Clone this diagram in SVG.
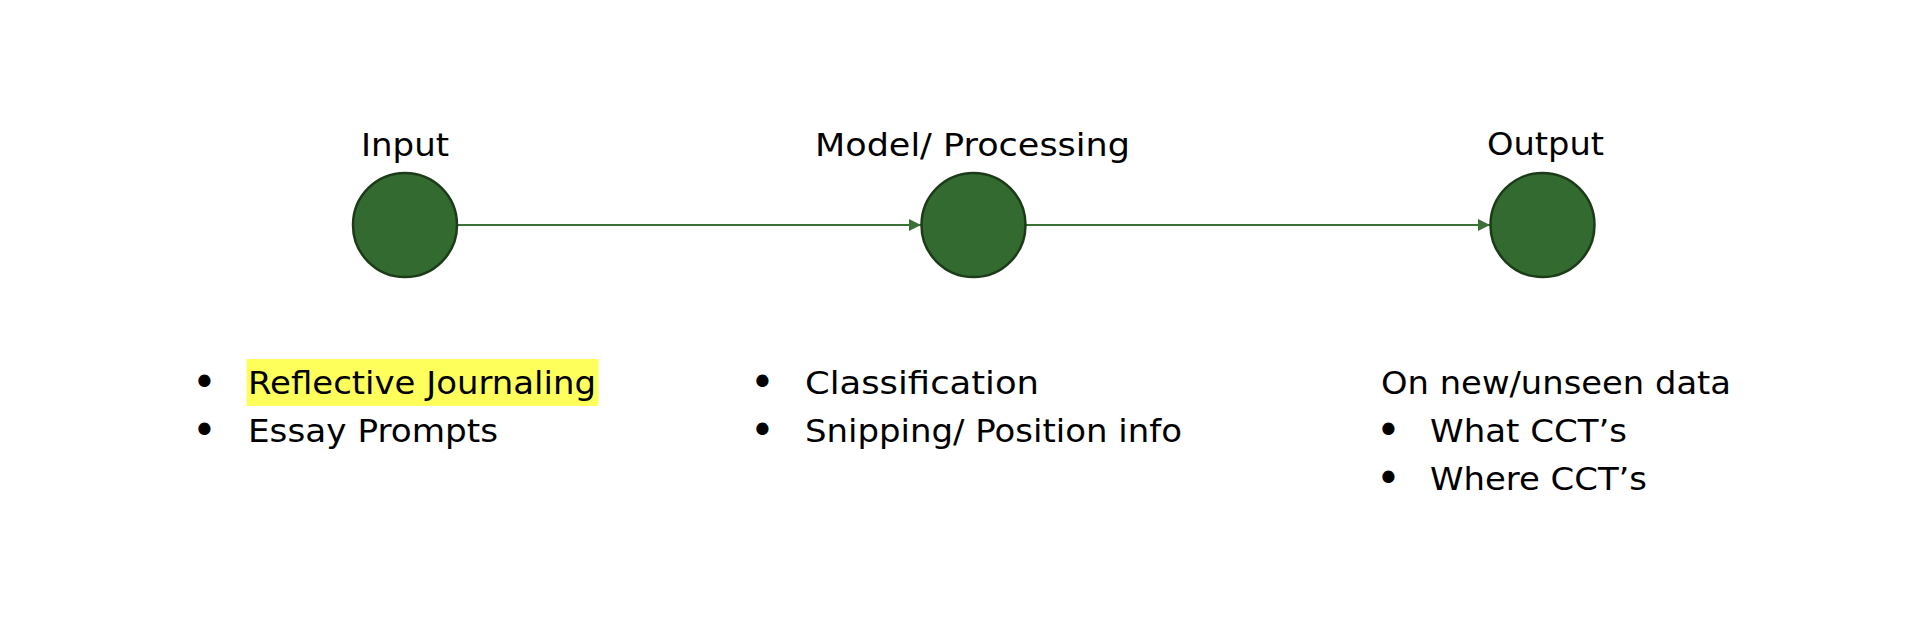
<svg xmlns="http://www.w3.org/2000/svg" width="1908" height="618" viewBox="0 0 1908 618">
<style>
.node{fill:#336a2f;stroke:#1c3b19;stroke-width:2.5}
.conn{stroke:#3b7136;stroke-width:2;fill:none}
.t{font-family:"DejaVu Sans","Liberation Sans",sans-serif;font-size:32px;fill:#000}
.b{font-family:"DejaVu Sans","Liberation Sans",sans-serif;font-size:42px;fill:#000}
</style>
<defs>
<marker id="ah" viewBox="0 0 12 12" refX="12" refY="6" markerWidth="12" markerHeight="12" markerUnits="userSpaceOnUse" orient="auto">
<path d="M0,0 L12,6 L0,12 Z" fill="#3b7136"/>
</marker>
</defs>
<rect width="1908" height="618" fill="#fff"/>
<g id="connectors">
<line class="conn" x1="457" y1="225" x2="921" y2="225" marker-end="url(#ah)"/>
<line class="conn" x1="1026" y1="225" x2="1490" y2="225" marker-end="url(#ah)"/>
</g>
<g id="input">
<text class="t" x="361" y="156" textLength="88" lengthAdjust="spacingAndGlyphs">Input</text>
<circle class="node" cx="405" cy="225" r="52"/>
</g>
<g id="model">
<text class="t" x="815" y="156" textLength="315" lengthAdjust="spacingAndGlyphs">Model/ Processing</text>
<circle class="node" cx="973.5" cy="225" r="52"/>
</g>
<g id="output">
<text class="t" x="1487" y="155" textLength="117" lengthAdjust="spacingAndGlyphs">Output</text>
<circle class="node" cx="1542.5" cy="225" r="52"/>
</g>
<g id="input-list">
<rect x="246.5" y="359" width="352" height="47" fill="#ffff5c"/>
<text class="b" x="192" y="397">•</text>
<text class="b" x="192" y="445">•</text>
<text class="t" x="248" y="394" textLength="348" lengthAdjust="spacingAndGlyphs">Reflective Journaling</text>
<text class="t" x="248" y="442" textLength="250" lengthAdjust="spacingAndGlyphs">Essay Prompts</text>
</g>
<g id="model-list">
<text class="b" x="750" y="397">•</text>
<text class="b" x="750" y="445">•</text>
<text class="t" x="805" y="394" textLength="234" lengthAdjust="spacingAndGlyphs">Classification</text>
<text class="t" x="805" y="442" textLength="377" lengthAdjust="spacingAndGlyphs">Snipping/ Position info</text>
</g>
<g id="output-list">
<text class="t" x="1381" y="394" textLength="350" lengthAdjust="spacingAndGlyphs">On new/unseen data</text>
<text class="b" x="1376" y="445">•</text>
<text class="b" x="1376" y="493">•</text>
<text class="t" x="1430" y="442" textLength="197" lengthAdjust="spacingAndGlyphs">What CCT’s</text>
<text class="t" x="1430" y="490" textLength="217" lengthAdjust="spacingAndGlyphs">Where CCT’s</text>
</g>
</svg>
